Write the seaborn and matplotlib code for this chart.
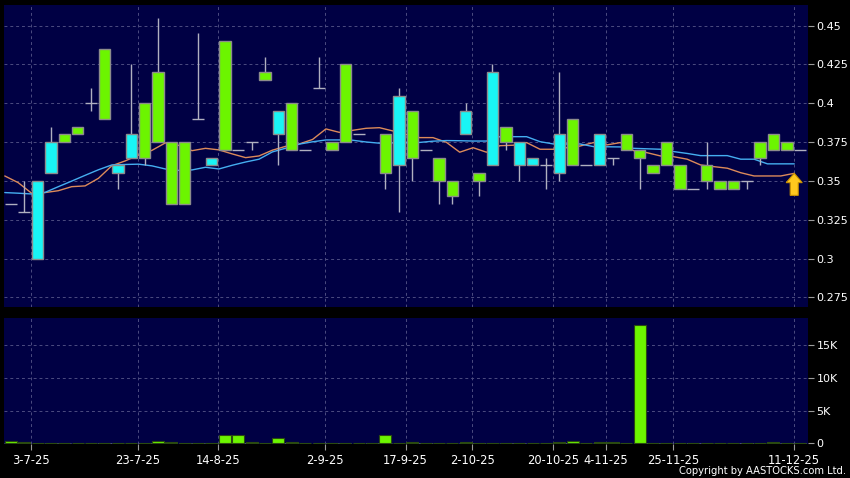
import matplotlib
matplotlib.use("Agg")
import matplotlib.pyplot as plt
import seaborn as sns
import numpy as np
import pandas as pd
from matplotlib.patches import FancyArrow

# daily OHLC (only days with trades), nan = empty slot
opens = [0.335, 0.33, 0.30, 0.355, 0.38, 0.385, 0.40, 0.435, 0.355, 0.365,
         0.40, 0.42, 0.375, 0.375, 0.39, 0.36, 0.44, 0.37, 0.375, 0.42,
         0.38, 0.40, 0.37, 0.41, 0.375, 0.425, 0.38, np.nan, 0.38, 0.36,
         0.395, 0.37, 0.365, 0.35, 0.38, 0.355, 0.36, 0.385, 0.36, 0.36,
         0.36, 0.355, 0.39, 0.36, 0.36, 0.365, 0.38, 0.37, 0.36, 0.375,
         0.36, 0.345, 0.36, 0.35, 0.35, 0.35, 0.375, 0.38, 0.375, 0.37]
highs = [0.335, 0.35, 0.35, 0.385, 0.38, 0.385, 0.41, 0.435, 0.36, 0.425,
         0.40, 0.455, 0.375, 0.375, 0.445, 0.365, 0.44, 0.37, 0.375, 0.43,
         0.395, 0.40, 0.37, 0.43, 0.375, 0.425, 0.38, np.nan, 0.38, 0.41,
         0.395, 0.37, 0.365, 0.35, 0.40, 0.355, 0.425, 0.385, 0.375, 0.365,
         0.365, 0.42, 0.39, 0.36, 0.38, 0.365, 0.38, 0.37, 0.36, 0.375,
         0.36, 0.345, 0.375, 0.35, 0.35, 0.35, 0.375, 0.38, 0.375, 0.37]
lows = [0.335, 0.33, 0.30, 0.355, 0.375, 0.38, 0.395, 0.39, 0.345, 0.365,
        0.36, 0.375, 0.335, 0.335, 0.39, 0.36, 0.37, 0.37, 0.37, 0.415,
        0.36, 0.37, 0.37, 0.41, 0.37, 0.375, 0.38, np.nan, 0.345, 0.33,
        0.35, 0.37, 0.335, 0.335, 0.38, 0.34, 0.36, 0.37, 0.35, 0.36,
        0.345, 0.35, 0.36, 0.36, 0.36, 0.36, 0.37, 0.345, 0.355, 0.36,
        0.345, 0.345, 0.345, 0.345, 0.345, 0.345, 0.36, 0.37, 0.37, 0.37]
closes = [0.335, 0.33, 0.35, 0.375, 0.375, 0.38, 0.40, 0.39, 0.36, 0.38,
          0.365, 0.375, 0.335, 0.335, 0.39, 0.365, 0.37, 0.37, 0.375, 0.415,
          0.395, 0.37, 0.37, 0.41, 0.37, 0.375, 0.38, np.nan, 0.355, 0.405,
          0.365, 0.37, 0.35, 0.34, 0.395, 0.35, 0.42, 0.375, 0.375, 0.365,
          0.36, 0.38, 0.36, 0.36, 0.38, 0.365, 0.37, 0.365, 0.355, 0.36,
          0.345, 0.345, 0.35, 0.345, 0.345, 0.35, 0.365, 0.37, 0.37, 0.37]
volumes = [300, 250, 40, 40, 40, 40, 40, 40, 40, 60,
           40, 400, 150, 40, 40, 40, 1280, 1280, 250, 40,
           770, 150, 40, 40, 40, 80, 40, 0, 1200, 80,
           150, 40, 40, 40, 250, 40, 40, 40, 80, 40,
           40, 150, 350, 40, 150, 150, 40, 18100, 40, 60,
           40, 40, 40, 80, 40, 40, 100, 150, 40, 40]
# moving averages (orange = short, blue = long)
ma_short = [0.3532, 0.3489, 0.3421, 0.3425, 0.3437, 0.3463, 0.3468, 0.3517, 0.3598, 0.3629,
            0.3667, 0.3697, 0.3745, 0.3729, 0.3695, 0.3710, 0.3700, 0.3674, 0.3650, 0.3661,
            0.3698, 0.3723, 0.3738, 0.3767, 0.3835, 0.3813, 0.3826, 0.3839, 0.3843, 0.3822,
            0.3800, 0.3779, 0.3779, 0.3749, 0.3685, 0.3714, 0.3685, 0.3727, 0.3730, 0.3747,
            0.3704, 0.3704, 0.3714, 0.3725, 0.3747, 0.3732, 0.3747, 0.3695, 0.3682, 0.3661,
            0.3656, 0.3640, 0.3603, 0.3592, 0.3582, 0.3553, 0.3532, 0.3532, 0.3532, 0.3549]
ma_long = [0.3425, 0.3421, 0.3416, 0.3426, 0.3463, 0.3499, 0.3536, 0.3572, 0.3603, 0.3606,
           0.3608, 0.3597, 0.3577, 0.3568, 0.3571, 0.3588, 0.3577, 0.3601, 0.3622, 0.3640,
           0.3687, 0.3711, 0.3737, 0.3752, 0.3764, 0.3764, 0.3762, 0.3751, 0.3743, 0.3745,
           0.3747, 0.3748, 0.3756, 0.3760, 0.3759, 0.3757, 0.3757, 0.3785, 0.3785, 0.3785,
           0.3753, 0.3738, 0.3738, 0.3738, 0.3721, 0.3720, 0.3719, 0.3710, 0.3707, 0.3704,
           0.3689, 0.3677, 0.3663, 0.3663, 0.3663, 0.3640, 0.3640, 0.3610, 0.3610, 0.3610]
date_index = [2, 10, 16, 24, 30, 35, 41, 45, 50, 59]
date_labels = ["3-7-25", "23-7-25", "14-8-25", "2-9-25", "17-9-25",
               "2-10-25", "20-10-25", "4-11-25", "25-11-25", "11-12-25"]
price_ticks = [0.275, 0.3, 0.325, 0.35, 0.375, 0.4, 0.425, 0.45]
price_labels = ["0.275", "0.3", "0.325", "0.35", "0.375", "0.4", "0.425", "0.45"]
vol_ticks = [0, 5000, 10000, 15000]
vol_labels = ["0", "5K", "10K", "15K"]

BG = "#000044"
GREEN = "#6cf500"
CYAN = "#19f5f5"
GRID = "#4c4c80"

sns.set_theme(style="dark", rc={"axes.facecolor": BG, "figure.facecolor": "black"})
plt.rcParams["font.family"] = ["DejaVu Sans"]

df = pd.DataFrame({"open": opens, "high": highs, "low": lows, "close": closes,
                   "volume": volumes, "ma_short": ma_short, "ma_long": ma_long})
df["idx"] = np.arange(len(df))
df["ma_x"] = df["idx"] - 0.45

fig = plt.figure(figsize=(8.5, 4.78), dpi=100)
ax1 = fig.add_axes([0.0047, 0.3584, 0.9462, 0.6301])
ax2 = fig.add_axes([0.0047, 0.0705, 0.9462, 0.2636])

# moving averages behind the candles
sns.lineplot(data=df, x="ma_x", y="ma_short", ax=ax1, color="#dc8a5a", linewidth=1, zorder=2)
sns.lineplot(data=df, x="ma_x", y="ma_long", ax=ax1, color="#45aef0", linewidth=1, zorder=2)

c = df.dropna(subset=["open"])
ax1.vlines(c["idx"], c["low"], c["high"], color="#b0b0c0", linewidth=1, zorder=3)
body = c[c["open"] != c["close"]]
up = body["close"] > body["open"]
ax1.bar(body["idx"], (body["close"] - body["open"]).abs(), bottom=body[["open", "close"]].min(axis=1),
        width=0.85, color=np.where(up, CYAN, GREEN), edgecolor="#8c8c8c", linewidth=1, zorder=4)
doji = c[c["open"] == c["close"]]
ax1.hlines(doji["close"], doji["idx"] - 0.45, doji["idx"] + 0.45, color="#b0b0c0", linewidth=1, zorder=4)

# arrow at the last moving average point
ax1.add_patch(FancyArrow(df["ma_x"].iloc[-1], df["ma_short"].iloc[-1] - 0.0142, 0, 0.0142,
                         width=0.6, head_width=1.2, head_length=0.006, length_includes_head=True,
                         facecolor="#ffc81e", edgecolor="#c89000", linewidth=0.8, zorder=6))

sns.barplot(data=df, x="idx", y="volume", ax=ax2, native_scale=True, color=GREEN,
            saturation=1, width=0.9, edgecolor="#2a4a10", linewidth=0.8, errorbar=None)

ax1.set_ylim(0.269, 0.463)
ax2.set_ylim(-150, 19170)
for ax in (ax1, ax2):
    ax.set_xlim(-0.51, 59.6)
    ax.set_xlabel("")
    ax.set_ylabel("")
    ax.yaxis.tick_right()
    ax.set_xticks([i - 0.5 for i in date_index])
    ax.grid(True, color=GRID, linestyle=(0, (3, 3)), linewidth=0.7)
    for s in ax.spines.values():
        s.set_visible(False)
    ax.tick_params(axis="y", colors="#9a9a9a", labelcolor="white", length=4, width=0.8,
                   pad=2, labelsize=8, right=True, left=False)

ax1.set_yticks(price_ticks, price_labels)
ax1.tick_params(axis="x", length=0, labelbottom=False)
ax2.set_yticks(vol_ticks, vol_labels)
ax2.set_xticklabels(date_labels)
ax2.tick_params(axis="x", colors="#9a9a9a", labelcolor="white", length=4, width=0.8,
                pad=3, labelsize=8.3, bottom=True)

fig.text(0.995, 0.0084, "Copyright by AASTOCKS.com Ltd.", ha="right", va="baseline",
         color="white", fontsize=7.2)

fig.savefig("out.png", dpi=100, facecolor="black")
